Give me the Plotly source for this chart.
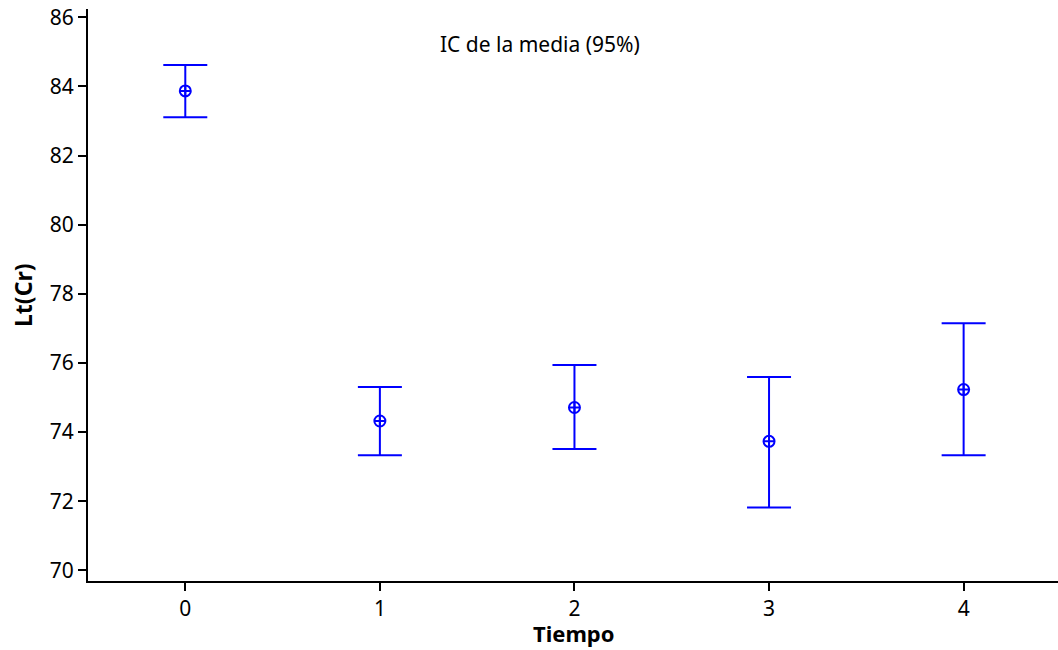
import plotly.graph_objects as go

# Tiempo groups and 95% confidence intervals for the mean of Lt(Cr)
tiempo = [0, 1, 2, 3, 4]
media = [83.87, 74.32, 74.71, 73.73, 75.23]
ic_sup = [84.62, 75.30, 75.94, 75.59, 77.15]
ic_inf = [83.11, 73.33, 73.51, 71.82, 73.33]

err_plus = [s - m for s, m in zip(ic_sup, media)]
err_minus = [m - i for m, i in zip(media, ic_inf)]

azul = "#0000FF"
fuente = "Noto Sans, DejaVu Sans, sans-serif"

width, height = 1058, 650
left, right, top, bottom = 88, 0, 9, 69
plot_w = width - left - right
plot_h = height - top - bottom


def px_x(px):
    """Horizontal pixel position -> paper fraction."""
    return (px - left) / plot_w


def px_y(px):
    """Vertical pixel position (from top) -> paper fraction."""
    return 1 - (px - top) / plot_h


fig = go.Figure()
fig.add_trace(go.Scatter(
    x=tiempo, y=media, mode="markers",
    marker=dict(symbol="circle-cross-open", size=11, color=azul,
                line=dict(width=2, color=azul)),
    error_y=dict(type="data", symmetric=False, array=err_plus,
                 arrayminus=err_minus, color=azul, thickness=2, width=22),
    showlegend=False,
))

fig.update_layout(
    width=width, height=height,
    margin=dict(l=left, r=right, t=top, b=bottom),
    paper_bgcolor="white", plot_bgcolor="white",
    font=dict(family=fuente, size=21, color="black"),
    xaxis=dict(
        range=[-0.5, 4.485], tickvals=tiempo, ticktext=[str(t) for t in tiempo],
        tickfont=dict(size=21),
        showgrid=False, zeroline=False, showline=True, linecolor="black",
        linewidth=2, ticks="outside", ticklen=8, tickwidth=2, tickcolor="black",
    ),
    yaxis=dict(
        range=[69.69, 86.24], tickvals=[70, 72, 74, 76, 78, 80, 82, 84, 86],
        tickfont=dict(size=21),
        showgrid=False, zeroline=False, showline=True, linecolor="black",
        linewidth=2, ticks="outside", ticklen=8, tickwidth=2, tickcolor="black",
    ),
    annotations=[
        dict(text="IC de la media (95%)", x=px_x(540), y=px_y(44),
             xref="paper", yref="paper", xanchor="center", yanchor="middle",
             showarrow=False, font=dict(size=21)),
        dict(text="<b>Tiempo</b>", x=px_x(574), y=px_y(633),
             xref="paper", yref="paper", xanchor="center", yanchor="middle",
             showarrow=False, font=dict(size=22)),
        dict(text="<b>Lt(Cr)</b>", x=px_x(23), y=px_y(296), textangle=-90,
             xref="paper", yref="paper", xanchor="center", yanchor="middle",
             showarrow=False, font=dict(size=23)),
    ],
)

fig.write_html("out.html")
